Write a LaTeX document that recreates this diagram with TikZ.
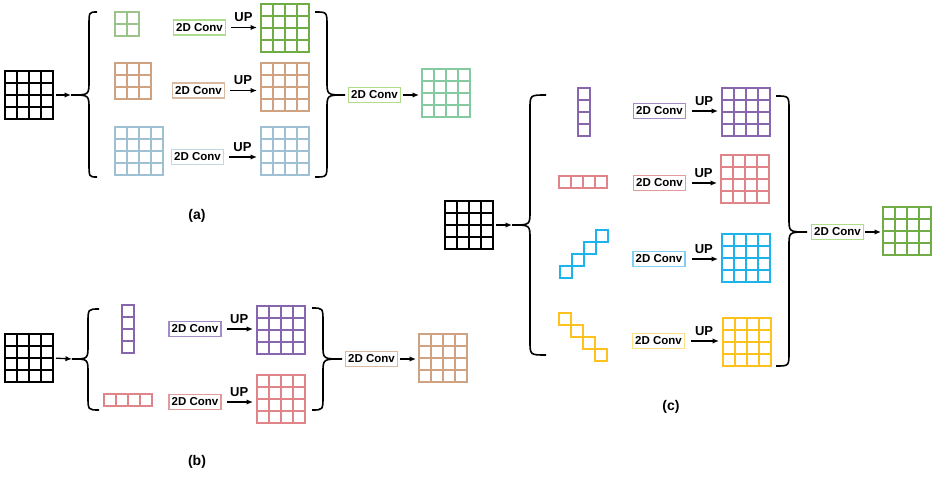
\documentclass[tikz,border=0pt]{standalone}
\usepackage{fontspec}
\setmainfont{Liberation Sans}
\usetikzlibrary{arrows.meta}

% palette
\definecolor{gSmall}{HTML}{9CC48A}
\definecolor{gDeep}{HTML}{70AD47}
\definecolor{gBox}{HTML}{AEDB8C}
\definecolor{tealGrid}{HTML}{84C9A0}
\definecolor{brownGrid}{HTML}{CFA282}
\definecolor{brownBox}{HTML}{D8B9A2}
\definecolor{steelGrid}{HTML}{9FC0D2}
\definecolor{steelBox}{HTML}{C2D9E5}
\definecolor{purpleGrid}{HTML}{8766AE}
\definecolor{purpleBox}{HTML}{A58BC6}
\definecolor{redGrid}{HTML}{DF8589}
\definecolor{redBox}{HTML}{E39A9D}
\definecolor{cyanGrid}{HTML}{1DB4EE}
\definecolor{cyanBox}{HTML}{7FD0F2}
\definecolor{yellowGrid}{HTML}{FFC11E}
\definecolor{yellowBox}{HTML}{FFDE8A}

\tikzset{
  gridframe/.style={inner sep=0pt, outer sep=0pt, anchor=north west},
  cellline/.style={line width=1.8pt},
  curlline/.style={line width=1.6pt, black},
  arr/.style={-{Latex[length=6.5pt,width=5.5pt]}, line width=1.3pt, black},
  convbox/.style={draw=#1, fill=white, line width=1.1pt, minimum width=52pt,
    minimum height=15pt, inner sep=1pt, font=\bfseries\fontsize{11.5}{12}\selectfont},
  uplabel/.style={above=4pt, inner sep=1pt, font=\bfseries\fontsize{13}{15}\selectfont},
  panellabel/.style={font=\bfseries\fontsize{14}{16}\selectfont},
}

% a named block of cols x rows square cells, 12pt each, top-left at (x,y)
\newcommand{\cellgrid}[6]{% name, x, y, cols, rows, colour
  \node[gridframe, minimum width=#4*12pt, minimum height=#5*12pt] (#1) at (#2,#3) {};
  \foreach \ci in {1,...,#4}{\foreach \cj in {1,...,#5}{
    \draw[cellline, draw=#6] (#2+\ci*12-12, #3+\cj*12-12) rectangle ++(12,12);}}
}

% curly brace: tip name, end x, spine x, tip x, top y, tip y, bottom y
\newcommand{\bracecurl}[7]{%
  \coordinate (#1) at (#4,#6);
  \draw[curlline] (#2,#5) .. controls (#3,#5) .. (#3,#5+14) -- (#3,#6-14)
    .. controls (#3,#6) .. (#1) .. controls (#3,#6) .. (#3,#6+14)
    -- (#3,#7-14) .. controls (#3,#7) .. (#2,#7);
}

\begin{document}
\begin{tikzpicture}[x=1pt, y=-1pt]
\useasboundingbox (0,0) rectangle (945,478);

% ---------------- (a) multi-scale square kernels ----------------
\cellgrid{ina}{5}{71}{4}{4}{black}
\bracecurl{ta}{97}{89}{71}{12}{95}{177}
\draw[arr, shorten <=3pt] (ina.east) -- (ta);

\cellgrid{ak2}{115}{12}{2}{2}{gSmall}
\cellgrid{ak3}{115}{63}{3}{3}{brownGrid}
\cellgrid{ak4}{115}{127}{4}{4}{steelGrid}

\node[convbox=gBox] (ac1) at (199.5,27.5) {2D Conv};
\node[convbox=brownBox] (ac2) at (198.5,90.5) {2D Conv};
\node[convbox=steelBox] (ac3) at (197.5,157) {2D Conv};

\cellgrid{ao1}{261}{4}{4}{4}{gDeep}
\cellgrid{ao2}{261}{63}{4}{4}{brownGrid}
\cellgrid{ao3}{261}{127}{4}{4}{steelGrid}

\draw[arr, shorten <=5pt, shorten >=4pt] (ac1.east) -- (ac1.east -| ao1.west) node[midway, uplabel] {UP};
\draw[arr, shorten <=5pt, shorten >=4pt] (ac2.east) -- (ac2.east -| ao2.west) node[midway, uplabel] {UP};
\draw[arr, shorten <=5pt, shorten >=4pt] (ac3.east) -- (ac3.east -| ao3.west) node[midway, uplabel] {UP};

\bracecurl{ra}{315}{327}{345}{12}{95}{177}
\node[convbox=gBox, anchor=west] (acf) at ([xshift=3pt]ra) {2D Conv};
\cellgrid{aout}{422}{69}{4}{4}{tealGrid}
\draw[arr, shorten <=2pt, shorten >=3pt] (acf.east) -- (acf.east -| aout.west);

\node[panellabel] (la) at (197,216) {(a)};

% ---------------- (b) strip kernels ----------------
\cellgrid{inb}{5}{334}{4}{4}{black}
\bracecurl{tb}{99}{88}{72}{309}{359}{410}
\draw[arr, shorten <=3pt] (inb.east) -- (tb);

\cellgrid{bk1}{122}{305}{1}{4}{purpleGrid}
\cellgrid{bk2}{104}{394}{4}{1}{redGrid}

\node[convbox=purpleBox] (bc1) at (195,329) {2D Conv};
\node[convbox=redBox] (bc2) at (195,402) {2D Conv};

\cellgrid{bo1}{257}{306}{4}{4}{purpleGrid}
\cellgrid{bo2}{257}{375}{4}{4}{redGrid}

\draw[arr, shorten <=5pt, shorten >=4pt] (bc1.east) -- (bc1.east -| bo1.west) node[midway, uplabel] {UP};
\draw[arr, shorten <=5pt, shorten >=4pt] (bc2.east) -- (bc2.east -| bo2.west) node[midway, uplabel] {UP};

\bracecurl{rb}{312}{323}{342}{308}{359}{410}
\node[convbox=brownBox, anchor=west] (bcf) at ([xshift=3pt]rb) {2D Conv};
\cellgrid{bout}{419}{334}{4}{4}{brownGrid}
\draw[arr, shorten <=2pt, shorten >=3pt] (bcf.east) -- (bcf.east -| bout.west);

\node[panellabel] (lb) at (197,462) {(b)};

% ---------------- (c) strip and diagonal kernels ----------------
\cellgrid{inc}{445}{201}{4}{4}{black}
\bracecurl{tc}{546}{530}{512}{95}{225}{355}
\draw[arr, shorten <=3pt] (inc.east) -- (tc);

\cellgrid{ck1}{578}{88}{1}{4}{purpleGrid}
\cellgrid{ck2}{559}{176}{4}{1}{redGrid}
% rising diagonal
\node[gridframe, minimum width=48pt, minimum height=48pt] (ck3) at (560,230) {};
\foreach \px/\py in {560/266, 572/254, 584/242, 596/230}
  \draw[cellline, draw=cyanGrid] (\px,\py) rectangle ++(12,12);
% falling diagonal
\node[gridframe, minimum width=48pt, minimum height=48pt] (ck4) at (559,313) {};
\foreach \px/\py in {559/313, 571/325, 583/337, 595/349}
  \draw[cellline, draw=yellowGrid] (\px,\py) rectangle ++(12,12);

\node[convbox=purpleBox] (cc1) at (659.5,111) {2D Conv};
\node[convbox=redBox] (cc2) at (659.5,183) {2D Conv};
\node[convbox=cyanBox] (cc3) at (659,259) {2D Conv};
\node[convbox=yellowBox] (cc4) at (658.5,341) {2D Conv};

\cellgrid{co1}{722}{88}{4}{4}{purpleGrid}
\cellgrid{co2}{721}{155}{4}{4}{redGrid}
\cellgrid{co3}{722}{234}{4}{4}{cyanGrid}
\cellgrid{co4}{723}{318}{4}{4}{yellowGrid}

\draw[arr, shorten <=6pt, shorten >=4pt] (cc1.east) -- (cc1.east -| co1.west) node[midway, uplabel] {UP};
\draw[arr, shorten <=6pt, shorten >=4pt] (cc2.east) -- (cc2.east -| co2.west) node[midway, uplabel] {UP};
\draw[arr, shorten <=6pt, shorten >=4pt] (cc3.east) -- (cc3.east -| co3.west) node[midway, uplabel] {UP};
\draw[arr, shorten <=6pt, shorten >=4pt] (cc4.east) -- (cc4.east -| co4.west) node[midway, uplabel] {UP};

\bracecurl{rc}{776}{789}{807}{96}{232}{366}
\node[convbox=gBox, anchor=west] (ccf) at ([xshift=4pt]rc) {2D Conv};
\cellgrid{cout}{883}{207}{4}{4}{gDeep}
\draw[arr, shorten <=1pt, shorten >=2pt] (ccf.east) -- (ccf.east -| cout.west);

\node[panellabel] (lc) at (671,407) {(c)};
\end{tikzpicture}
\end{document}
